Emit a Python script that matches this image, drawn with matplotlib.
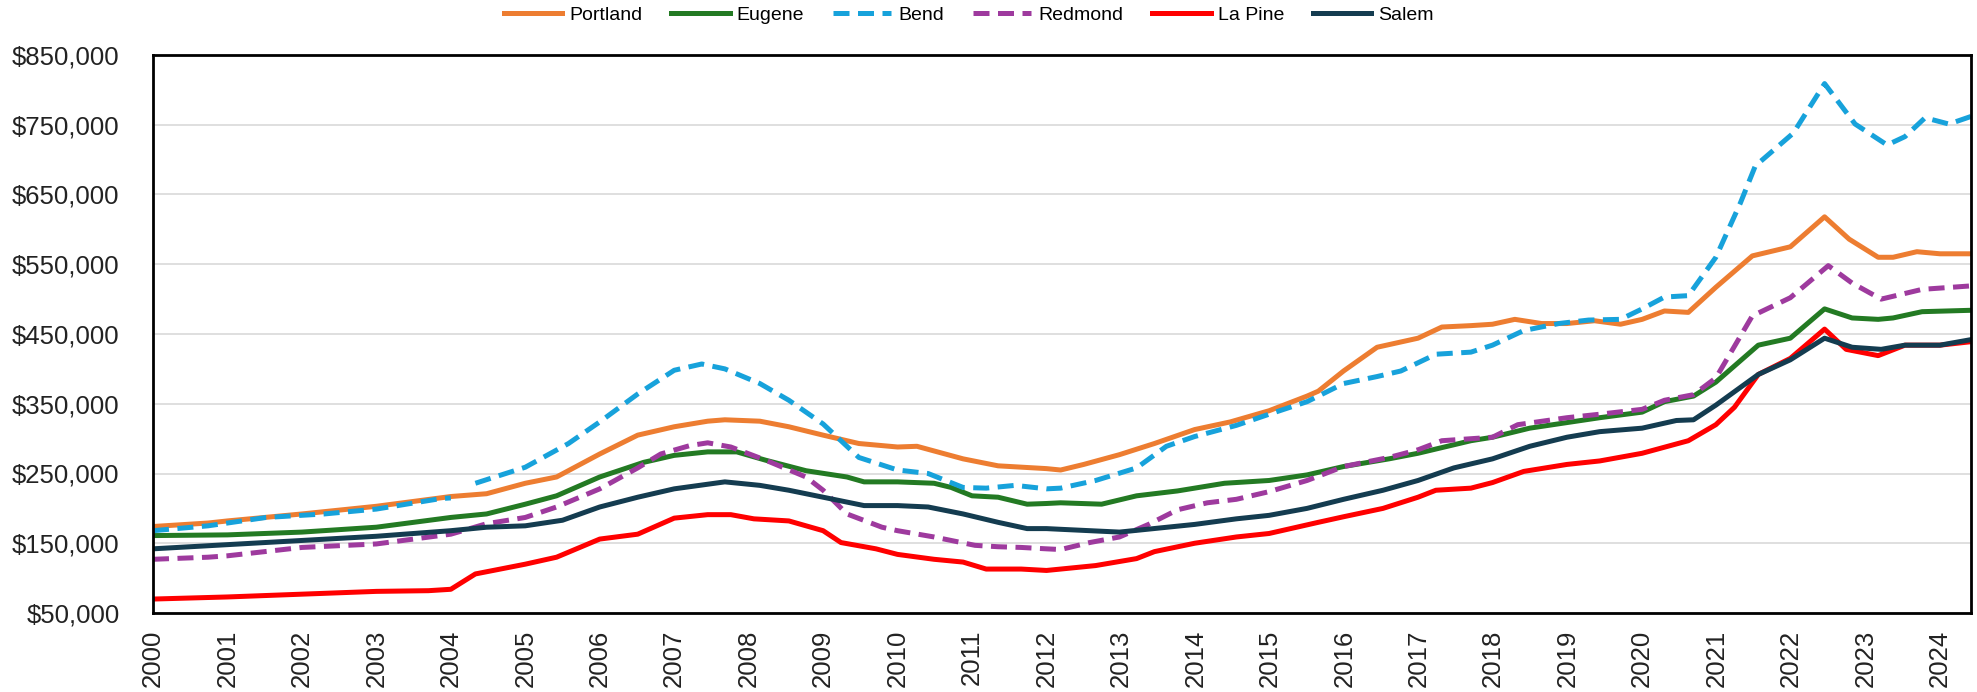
import numpy as np
import matplotlib
matplotlib.use("Agg")
import matplotlib.pyplot as plt
from matplotlib.ticker import FuncFormatter

plt.rcParams['font.family'] = ['Liberation Sans', 'DejaVu Sans']

# ---- data (decimal year, value in $1000s) ----
portland_x = [2000.0, 2000.74, 2001.0, 2002.0, 2003.0, 2004.0, 2004.48, 2005.0, 2005.42, 2006.0, 2006.51, 2007.0,
              2007.45, 2007.68, 2008.15, 2008.54, 2009.0, 2009.48, 2010.0, 2010.26, 2010.88, 2011.35, 2012.0,
              2012.19, 2012.5, 2012.98, 2013.45, 2013.99, 2014.47, 2014.99, 2015.5, 2015.65, 2015.99, 2016.44,
              2016.99, 2017.31, 2017.7, 2017.99, 2018.29, 2018.65, 2018.99, 2019.36, 2019.71, 2020.0, 2020.3,
              2020.62, 2020.99, 2021.48, 2021.99, 2022.45, 2022.78, 2023.17, 2023.37, 2023.69, 2024.0, 2024.42]
portland_y = [174, 179, 182, 192, 203, 217, 221, 236, 245, 278, 305, 317,
              325, 327, 325, 317, 305, 293, 288, 289, 271, 261, 257,
              255, 263, 277, 293, 313, 324, 340, 361, 368, 397, 431,
              444, 460, 462, 464, 471, 465, 465, 469, 464, 471, 483,
              481, 517, 562, 575, 618, 586, 560, 560, 568, 565, 565]

eugene_x = [2000.0, 2001.0, 2002.0, 2003.0, 2004.0, 2004.48, 2005.0, 2005.42, 2006.0, 2006.59, 2007.0, 2007.45,
            2007.84, 2008.23, 2008.77, 2009.32, 2009.55, 2010.0, 2010.49, 2010.72, 2011.0, 2011.35, 2011.74,
            2012.0, 2012.19, 2012.74, 2013.21, 2013.76, 2014.39, 2014.99, 2015.5, 2015.99, 2016.6, 2016.99,
            2017.7, 2017.99, 2018.49, 2018.99, 2019.43, 2020.0, 2020.3, 2020.69, 2020.99, 2021.56, 2021.99,
            2022.45, 2022.82, 2023.17, 2023.37, 2023.76, 2024.42]
eugene_y = [161, 162, 166, 173, 187, 192, 206, 218, 245, 266, 276, 281,
            281, 269, 254, 245, 238, 238, 236, 230, 218, 216, 206,
            207, 208, 206, 218, 225, 236, 240, 248, 260, 271, 279,
            297, 302, 315, 323, 330, 338, 353, 361, 381, 434, 444,
            486, 473, 471, 473, 482, 484]

bend_x = [2000.0, 2000.74, 2001.52, 2002.3, 2003.0, 2003.86, 2004.0, 2004.17, 2004.33, 2005.0, 2005.58, 2006.0,
          2006.51, 2007.0, 2007.37, 2007.68, 2008.15, 2008.54, 2009.0, 2009.48, 2010.0, 2010.41, 2010.88,
          2011.19, 2011.58, 2012.0, 2012.19, 2012.66, 2013.21, 2013.61, 2013.99, 2014.55, 2014.99, 2015.5,
          2015.99, 2016.44, 2016.76, 2017.23, 2017.7, 2017.99, 2018.41, 2018.88, 2019.28, 2019.71, 2020.0,
          2020.3, 2020.62, 2020.99, 2021.32, 2021.52, 2022.03, 2022.45, 2022.86, 2023.29, 2023.53, 2023.8,
          2024.12, 2024.42]
bend_y = [168, 175, 187, 192, 199, 214, 215, np.nan, 236, 259, 293, 324,
          364, 398, 407, 400, 379, 355, 321, 273, 255, 250, 230,
          229, 233, 228, 229, 240, 258, 289, 303, 319, 335, 353,
          379, 389, 397, 421, 424, 434, 455, 465, 470, 471, 486,
          503, 505, 560, 638, 691, 738, 809, 751, 721, 733, 760,
          751, 762]

redmond_x = [2000.0, 2000.74, 2001.0, 2002.0, 2003.0, 2004.0, 2004.48, 2005.0, 2005.42, 2006.0, 2006.51, 2006.82,
             2007.21, 2007.45, 2007.76, 2008.23, 2008.77, 2009.0, 2009.32, 2009.79, 2010.0, 2010.49, 2011.04,
             2011.35, 2011.66, 2012.0, 2012.19, 2012.58, 2012.98, 2013.37, 2013.76, 2014.16, 2014.55, 2014.99,
             2015.5, 2015.99, 2016.6, 2016.99, 2017.31, 2017.99, 2018.33, 2018.99, 2019.43, 2020.0, 2020.3,
             2020.69, 2020.99, 2021.48, 2021.99, 2022.5, 2022.82, 2023.21, 2023.76, 2024.42]
redmond_y = [127, 130, 132, 144, 149, 163, 178, 187, 202, 228, 258, 278,
             290, 294, 288, 269, 245, 226, 192, 173, 168, 159, 147,
             145, 144, 142, 141, 151, 159, 177, 198, 208, 213, 224,
             240, 260, 273, 284, 297, 302, 320, 330, 335, 342, 355,
             363, 387, 476, 502, 548, 523, 500, 514, 519]

lapine_x = [2000.0, 2001.0, 2002.0, 2003.0, 2003.7, 2004.0, 2004.33, 2005.0, 2005.42, 2006.0, 2006.51, 2007.0,
            2007.45, 2007.76, 2008.07, 2008.54, 2009.0, 2009.24, 2009.71, 2010.0, 2010.49, 2010.88, 2011.19,
            2011.66, 2012.0, 2012.19, 2012.66, 2013.21, 2013.45, 2013.99, 2014.55, 2014.99, 2015.65, 2015.99,
            2016.52, 2016.99, 2017.23, 2017.7, 2017.99, 2018.41, 2018.99, 2019.43, 2020.0, 2020.62, 2020.99,
            2021.24, 2021.56, 2021.99, 2022.45, 2022.74, 2023.17, 2023.53, 2024.0, 2024.42]
lapine_y = [70, 73, 77, 81, 82, 84, 106, 120, 130, 156, 163, 186,
            191, 191, 185, 182, 168, 151, 142, 134, 127, 123, 113,
            113, 111, 113, 118, 128, 138, 150, 159, 164, 180, 188,
            200, 216, 226, 229, 237, 253, 263, 268, 279, 297, 320,
            345, 392, 415, 457, 428, 419, 434, 434, 439]

salem_x = [2000.0, 2001.0, 2002.0, 2003.0, 2004.0, 2004.48, 2005.0, 2005.5, 2006.0, 2006.51, 2007.0, 2007.68,
           2008.15, 2008.54, 2009.0, 2009.55, 2010.0, 2010.41, 2010.88, 2011.35, 2011.74, 2012.0, 2012.19,
           2012.98, 2013.99, 2014.55, 2014.99, 2015.5, 2015.99, 2016.52, 2016.99, 2017.47, 2017.99, 2018.49,
           2018.99, 2019.43, 2020.0, 2020.46, 2020.69, 2020.99, 2021.56, 2021.99, 2022.45, 2022.82, 2023.21,
           2023.53, 2024.0, 2024.42]
salem_y = [142, 148, 154, 160, 168, 173, 175, 183, 202, 216, 228, 238,
           233, 226, 216, 204, 204, 202, 192, 180, 171, 171, 170,
           166, 177, 185, 190, 200, 213, 226, 240, 258, 271, 289,
           302, 310, 315, 326, 327, 348, 392, 413, 444, 431, 428,
           434, 434, 442]

series_names = ["Portland", "Eugene", "Bend", "Redmond", "La Pine", "Salem"]
year_ticks = list(range(2000, 2025))
y_ticks = [50000, 150000, 250000, 350000, 450000, 550000, 650000, 750000, 850000]

# ---- figure ----
W, H, DPI = 1977, 692, 100
fig = plt.figure(figsize=(W / DPI, H / DPI), dpi=DPI)
ax = fig.add_axes([153 / W, 1 - 613 / H, 1818 / W, 558 / H])

styles = {
    "Portland": dict(color="#ED7D31", ls="-"),
    "Eugene": dict(color="#237A23", ls="-"),
    "Bend": dict(color="#17A2DB", ls=(0, (3.2, 1.7))),
    "Redmond": dict(color="#9E3A9E", ls=(0, (3.2, 1.7))),
    "La Pine": dict(color="#FF0000", ls="-"),
    "Salem": dict(color="#143C50", ls="-"),
}
data = {
    "Portland": (portland_x, portland_y),
    "Eugene": (eugene_x, eugene_y),
    "Bend": (bend_x, bend_y),
    "Redmond": (redmond_x, redmond_y),
    "La Pine": (lapine_x, lapine_y),
    "Salem": (salem_x, salem_y),
}
for i, name in enumerate(series_names):
    xs, ys = data[name]
    ax.plot(xs, np.array(ys, dtype=float) * 1000, label=name, lw=3.6,
            color=styles[name]["color"], linestyle=styles[name]["ls"],
            solid_joinstyle="round", dash_capstyle="butt", zorder=3 + i)

ax.set_xlim(2000, 2024 + 5 / 12)
ax.set_ylim(50000, 850000)
ax.set_yticks(y_ticks)
ax.yaxis.set_major_formatter(FuncFormatter(lambda v, p: f"${v:,.0f}"))
ax.set_xticks(year_ticks)
ax.set_xticklabels([str(y) for y in year_ticks], rotation=90, va="top", ha="center")
ax.grid(axis="y", color="#D9D9D9", lw=1.2, zorder=0)
ax.tick_params(axis="both", length=0, labelsize=18.5, colors="#222222")
ax.tick_params(axis="y", pad=24)
ax.tick_params(axis="x", pad=12)
for s in ax.spines.values():
    s.set_color("black")
    s.set_linewidth(2.0)
    s.set_zorder(20)

fig.legend(*ax.get_legend_handles_labels(), loc="center", bbox_to_anchor=(0.49, 1 - 15 / H),
           ncol=6, frameon=False, fontsize=14, handlelength=3.0, handletextpad=0.35,
           columnspacing=1.5, borderaxespad=0)

fig.savefig("out.png", dpi=DPI)
